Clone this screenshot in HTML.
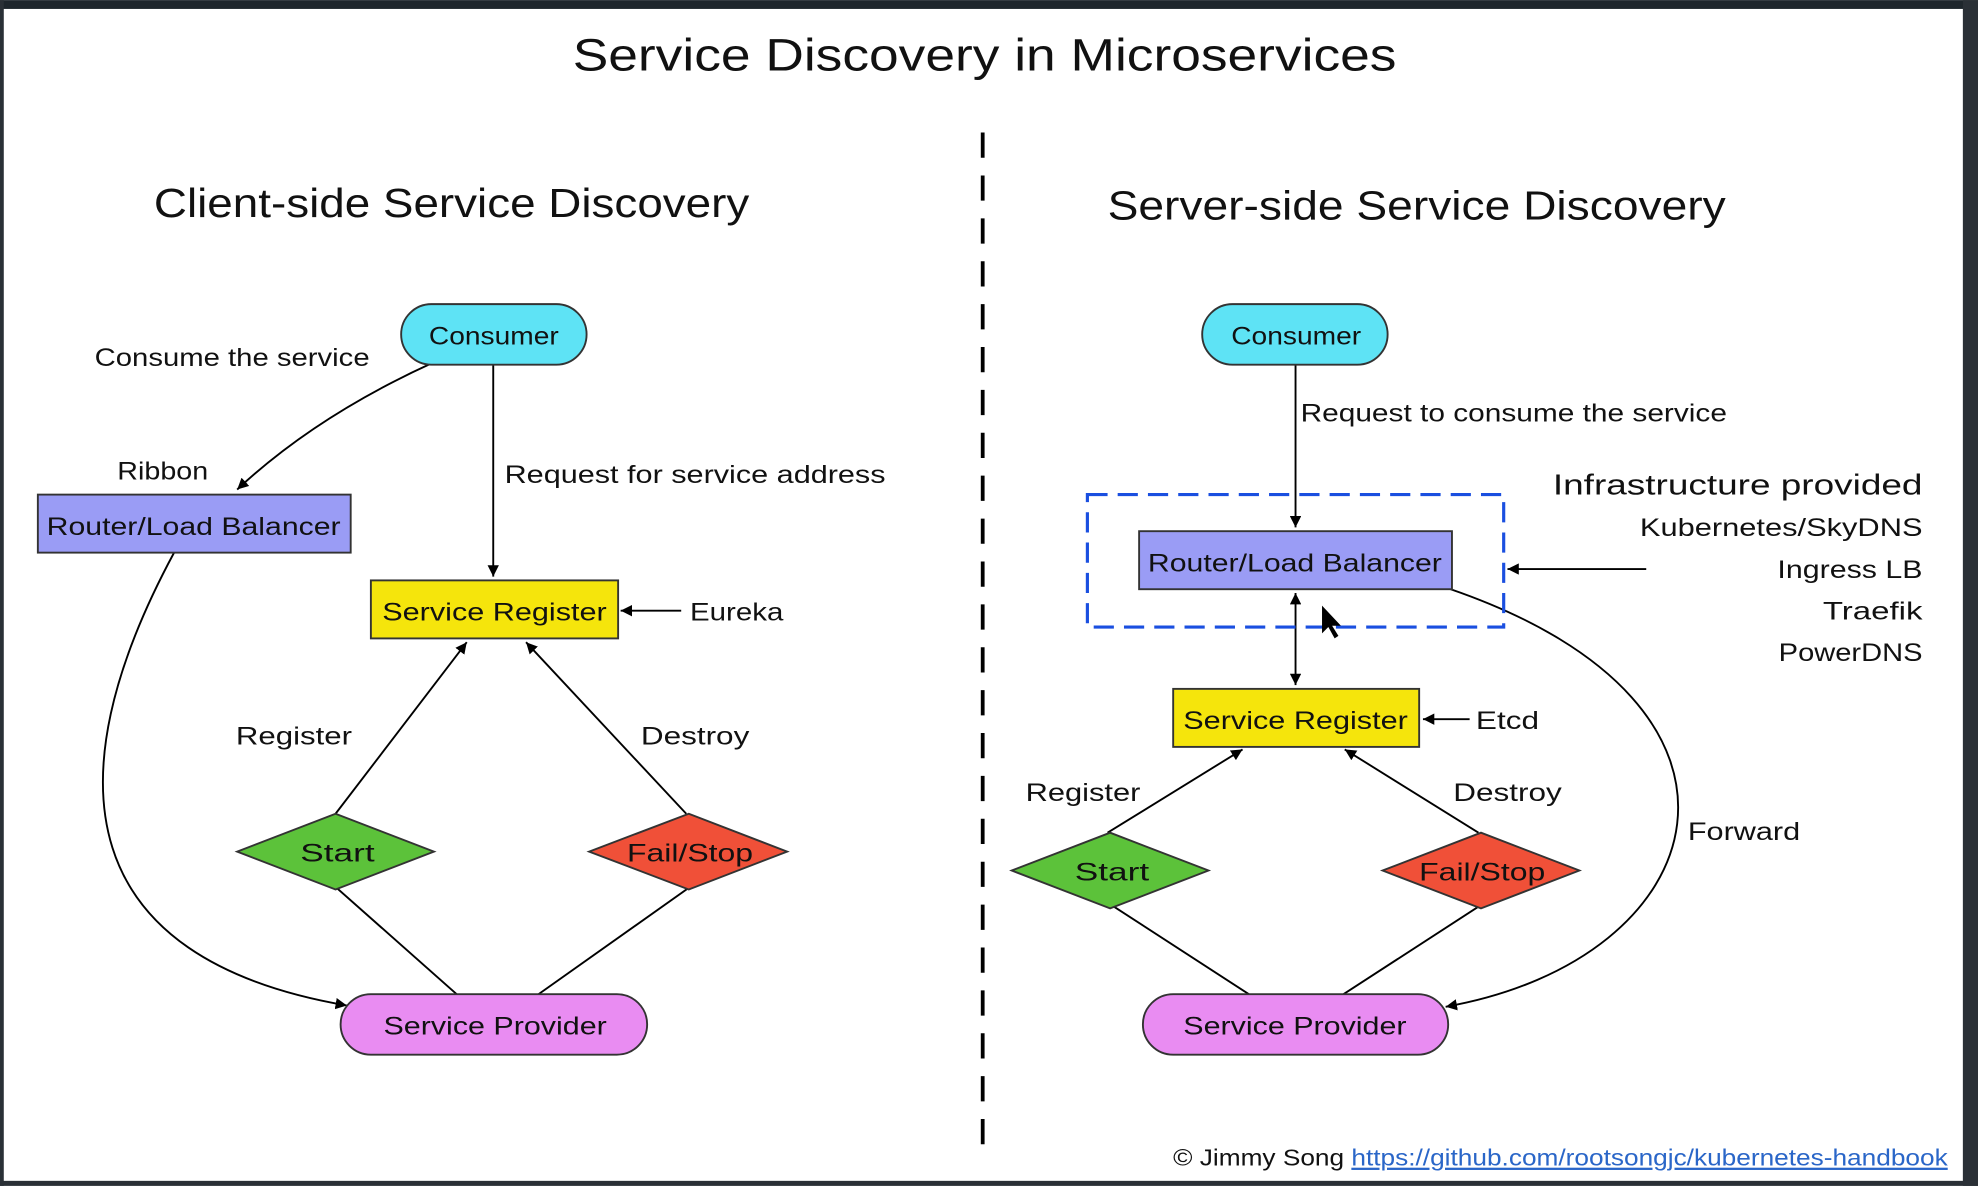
<!DOCTYPE html>
<html><head><meta charset="utf-8"><style>
html,body{margin:0;padding:0;background:#fff;}
svg{display:block;}
text{font-family:"Liberation Sans",sans-serif;fill:#111;}
</style></head><body>
<svg width="1978" height="1186" viewBox="0 0 1568 940" xmlns="http://www.w3.org/2000/svg">
<defs>
<marker id="a" viewBox="0 0 10 10" refX="10" refY="5" markerWidth="9" markerHeight="9" orient="auto-start-reverse" markerUnits="userSpaceOnUse"><path d="M0,0 L10,5 L0,10 z" fill="#000"/></marker>
</defs>
<rect x="0" y="0" width="1568" height="940" fill="#fff"/>
<rect x="0" y="0" width="1568" height="7" fill="#1e262c"/>
<rect x="1556" y="0" width="12" height="940" fill="#2a3036"/>
<rect x="0" y="936" width="1568" height="4" fill="#2a3036"/>
<rect x="0" y="0" width="3" height="940" fill="#2a3036"/>

<g lengthAdjust="spacingAndGlyphs">
<text x="454" y="56" font-size="36" textLength="653" lengthAdjust="spacingAndGlyphs">Service Discovery in Microservices</text>
<text x="122" y="172" font-size="32" textLength="472" lengthAdjust="spacingAndGlyphs">Client-side Service Discovery</text>
<text x="878" y="174" font-size="32" textLength="490" lengthAdjust="spacingAndGlyphs">Server-side Service Discovery</text>
</g>
<line x1="779" y1="105" x2="779" y2="915" stroke="#000" stroke-width="3" stroke-dasharray="20,14"/>

<g stroke="#000" stroke-width="1.5" fill="none">
<path d="M342,288 Q250,330 188,388" marker-end="url(#a)"/>
<line x1="391" y1="288" x2="391" y2="457" marker-end="url(#a)"/>
<line x1="540" y1="484" x2="492" y2="484" marker-end="url(#a)"/>
<line x1="266" y1="645" x2="370" y2="509" marker-end="url(#a)"/>
<line x1="544" y1="645" x2="417" y2="509" marker-end="url(#a)"/>
<line x1="266" y1="703" x2="362" y2="788"/>
<line x1="547" y1="703" x2="427" y2="788"/>
<path d="M138,438 C40,620 60,760 275,797" marker-end="url(#a)"/>
<line x1="1027" y1="288" x2="1027" y2="418" marker-end="url(#a)"/>
<line x1="1305" y1="451" x2="1195" y2="451" marker-end="url(#a)"/>
<line x1="1027" y1="470" x2="1027" y2="543" marker-end="url(#a)" marker-start="url(#a)"/>
<line x1="1165" y1="570" x2="1128" y2="570" marker-end="url(#a)"/>
<line x1="878" y1="660" x2="985" y2="594" marker-end="url(#a)"/>
<line x1="1172" y1="660" x2="1066" y2="594" marker-end="url(#a)"/>
<line x1="882" y1="718" x2="990" y2="788"/>
<line x1="1173" y1="718" x2="1065" y2="788"/>
<path d="M1150,467 C1420,560 1360,760 1146,798" marker-end="url(#a)"/>
</g>
<rect x="862" y="392" width="330" height="105" fill="none" stroke="#1a4fe0" stroke-width="2.5" stroke-dasharray="16,8"/>

<rect x="318" y="241" width="147" height="48" rx="24" fill="#5ee3f5" stroke="#333" stroke-width="1.5"/>
<text x="340" y="273" font-size="20" textLength="103" lengthAdjust="spacingAndGlyphs">Consumer</text>
<rect x="30" y="392" width="248" height="46" fill="#9a9cf5" stroke="#333" stroke-width="1.5"/>
<text x="37" y="424" font-size="20" textLength="233" lengthAdjust="spacingAndGlyphs">Router/Load Balancer</text>
<rect x="294" y="460" width="196" height="46" fill="#f5e50c" stroke="#333" stroke-width="1.5"/>
<text x="303" y="492" font-size="20" textLength="178" lengthAdjust="spacingAndGlyphs">Service Register</text>
<polygon points="188,675 266,645 344,675 266,705" fill="#5cc23a" stroke="#333" stroke-width="1.5"/>
<text x="238" y="683" font-size="20" textLength="59" lengthAdjust="spacingAndGlyphs">Start</text>
<polygon points="467,675 546,645 624,675 546,705" fill="#f05038" stroke="#333" stroke-width="1.5"/>
<text x="497" y="683" font-size="20" textLength="100" lengthAdjust="spacingAndGlyphs">Fail/Stop</text>
<rect x="270" y="788" width="243" height="48" rx="24" fill="#e98cf2" stroke="#333" stroke-width="1.5"/>
<text x="304" y="820" font-size="20" textLength="177" lengthAdjust="spacingAndGlyphs">Service Provider</text>
<text x="75" y="290" font-size="20" textLength="218" lengthAdjust="spacingAndGlyphs">Consume the service</text>
<text x="93" y="380" font-size="20" textLength="72" lengthAdjust="spacingAndGlyphs">Ribbon</text>
<text x="400" y="383" font-size="20" textLength="302" lengthAdjust="spacingAndGlyphs">Request for service address</text>
<text x="547" y="492" font-size="20" textLength="74" lengthAdjust="spacingAndGlyphs">Eureka</text>
<text x="187" y="590" font-size="20" textLength="92" lengthAdjust="spacingAndGlyphs">Register</text>
<text x="508" y="590" font-size="20" textLength="86" lengthAdjust="spacingAndGlyphs">Destroy</text>

<rect x="953" y="241" width="147" height="48" rx="24" fill="#5ee3f5" stroke="#333" stroke-width="1.5"/>
<text x="976" y="273" font-size="20" textLength="103" lengthAdjust="spacingAndGlyphs">Consumer</text>
<rect x="903" y="421" width="248" height="46" fill="#9a9cf5" stroke="#333" stroke-width="1.5"/>
<text x="910" y="453" font-size="20" textLength="233" lengthAdjust="spacingAndGlyphs">Router/Load Balancer</text>
<rect x="930" y="546" width="195" height="46" fill="#f5e50c" stroke="#333" stroke-width="1.5"/>
<text x="938" y="578" font-size="20" textLength="178" lengthAdjust="spacingAndGlyphs">Service Register</text>
<polygon points="802,690 880,660 958,690 880,720" fill="#5cc23a" stroke="#333" stroke-width="1.5"/>
<text x="852" y="698" font-size="20" textLength="59" lengthAdjust="spacingAndGlyphs">Start</text>
<polygon points="1096,690 1174,660 1252,690 1174,720" fill="#f05038" stroke="#333" stroke-width="1.5"/>
<text x="1125" y="698" font-size="20" textLength="100" lengthAdjust="spacingAndGlyphs">Fail/Stop</text>
<rect x="906" y="788" width="242" height="48" rx="24" fill="#e98cf2" stroke="#333" stroke-width="1.5"/>
<text x="938" y="820" font-size="20" textLength="177" lengthAdjust="spacingAndGlyphs">Service Provider</text>
<text x="1031" y="334" font-size="20" textLength="338" lengthAdjust="spacingAndGlyphs">Request to consume the service</text>
<text x="1231" y="392" font-size="23" textLength="293" lengthAdjust="spacingAndGlyphs">Infrastructure provided</text>
<text x="1300" y="425" font-size="20" textLength="224" lengthAdjust="spacingAndGlyphs">Kubernetes/SkyDNS</text>
<text x="1409" y="458" font-size="20" textLength="115" lengthAdjust="spacingAndGlyphs">Ingress LB</text>
<text x="1445" y="491" font-size="20" textLength="79" lengthAdjust="spacingAndGlyphs">Traefik</text>
<text x="1410" y="524" font-size="20" textLength="114" lengthAdjust="spacingAndGlyphs">PowerDNS</text>
<text x="1170" y="578" font-size="20" textLength="50" lengthAdjust="spacingAndGlyphs">Etcd</text>
<text x="813" y="635" font-size="20" textLength="91" lengthAdjust="spacingAndGlyphs">Register</text>
<text x="1152" y="635" font-size="20" textLength="86" lengthAdjust="spacingAndGlyphs">Destroy</text>
<text x="1338" y="666" font-size="20" textLength="89" lengthAdjust="spacingAndGlyphs">Forward</text>
<path d="M1048,480 l0,22 l5,-5 l5,9 l3,-2 l-5,-8 l7,0 z" fill="#000"/>

<text x="930" y="924" font-size="18" fill="#333" textLength="614" lengthAdjust="spacingAndGlyphs">© Jimmy Song <tspan fill="#2a66c8" text-decoration="underline">https://github.com/rootsongjc/kubernetes-handbook</tspan></text>
</svg>
</body></html>
